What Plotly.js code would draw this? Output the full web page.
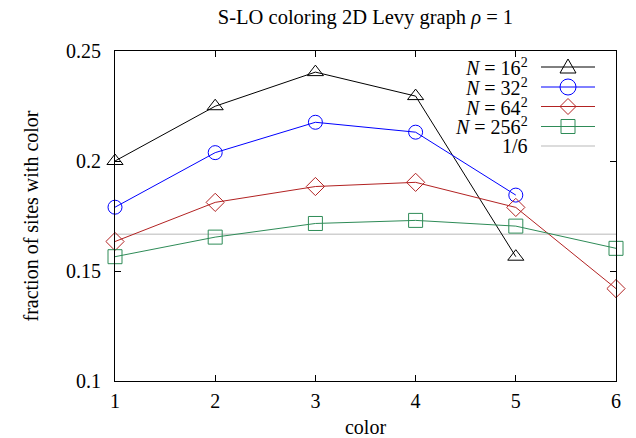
<!DOCTYPE html>
<html>
<head>
<meta charset="utf-8">
<script src="https://cdn.plot.ly/plotly-3.0.1.min.js"></script>
<style>html,body{margin:0;padding:0;background:#fff;}#chart{width:636px;height:438px;}</style>
</head>
<body>
<div id="chart"></div>
<script>
const colors = [1, 2, 3, 4, 5, 6];
const n16 = [0.2000, 0.2249, 0.2404, 0.2295, 0.1565];
const n32 = [0.1790, 0.2038, 0.2176, 0.2131, 0.1845];
const n64 = [0.1634, 0.1812, 0.1884, 0.1903, 0.1789, 0.1420];
const n256 = [0.1565, 0.1654, 0.1716, 0.1730, 0.1704, 0.1603];
const oneSixth = 1 / 6;
const seriesNames = ['<i>N</i> = 16<sup>2</sup>', '<i>N</i> = 32<sup>2</sup>', '<i>N</i> = 64<sup>2</sup>', '<i>N</i> = 256<sup>2</sup>', '1/6'];
const seriesColors = ['#000000', '#0000ff', '#b22222', '#2e8b57', '#d0d0d0'];
const seriesSymbols = ['triangle-up-open', 'circle-open', 'diamond-open', 'square-open', null];
const yTicks = [0.1, 0.15, 0.2, 0.25];
const yTickText = ['0.1', '0.15', '0.2', '0.25'];

const FONT = 'Liberation Serif, Times New Roman, serif';
const data = [n16, n32, n64, n256];

const traces = [];
traces.push({
  x: [colors[0], colors[colors.length - 1]],
  y: [oneSixth, oneSixth],
  mode: 'lines',
  line: {color: seriesColors[4], width: 1.5},
  hoverinfo: 'skip', showlegend: false
});
data.forEach((ys, i) => {
  traces.push({
    x: colors.slice(0, ys.length),
    y: ys,
    mode: 'lines+markers',
    cliponaxis: false,
    line: {color: seriesColors[i], width: 1},
    marker: {symbol: seriesSymbols[i], size: 14, color: seriesColors[i], line: {width: 1, color: seriesColors[i]}},
    showlegend: false
  });
});

const L = 115, R = 616, T = 51, B = 381;
const px = v => (v - L) / (R - L);
const py = v => (B - v) / (B - T);
const rowsPx = [67, 87, 106.5, 126.5, 146];
const shapes = [];
const annotations = [];
rowsPx.forEach((r, i) => {
  annotations.push({
    xref: 'paper', yref: 'paper', x: px(530), y: py(r), xanchor: 'right', yanchor: 'middle',
    text: seriesNames[i], showarrow: false, font: {family: FONT, size: 20, color: '#000'}
  });
  shapes.push({
    type: 'line', xref: 'paper', yref: 'paper', x0: px(541), x1: px(595), y0: py(r), y1: py(r),
    line: {color: seriesColors[i], width: i === 4 ? 1.5 : 1}
  });
  const cx = px(568), cy = py(r);
  const base = {xref: 'paper', yref: 'paper', xsizemode: 'pixel', ysizemode: 'pixel', xanchor: cx, yanchor: cy,
    line: {color: seriesColors[i], width: 1}, fillcolor: 'rgba(0,0,0,0)'};
  if (i === 0) shapes.push(Object.assign({type: 'path', path: 'M-8,-6 L8,-6 L0,8 Z'}, base));
  if (i === 1) shapes.push(Object.assign({type: 'circle', x0: -8, x1: 8, y0: -8, y1: 8}, base));
  if (i === 2) shapes.push(Object.assign({type: 'path', path: 'M0,-8 L8,0 L0,8 L-8,0 Z'}, base));
  if (i === 3) shapes.push(Object.assign({type: 'rect', x0: -7, x1: 7, y0: -7, y1: 7}, base));
});

const layout = {
  width: 636, height: 438,
  margin: {l: L, r: 636 - R, t: T, b: 438 - B, pad: 0},
  paper_bgcolor: '#fff', plot_bgcolor: '#fff',
  font: {family: FONT, size: 20, color: '#000'},
  showlegend: false,
  title: {text: 'S-LO coloring 2D Levy graph <i>ρ</i> = 1', font: {family: FONT, size: 20.5, color: '#000'},
    x: 0.5, xref: 'paper', xanchor: 'center', y: 1 - 17 / 438, yanchor: 'middle'},
  xaxis: {
    range: [1, 6], tickvals: colors, ticks: 'inside', ticklen: 6, tickwidth: 1, tickcolor: '#000',
    showline: true, linecolor: '#000', linewidth: 1, mirror: 'ticks', showgrid: false, zeroline: false,
    tickfont: {family: FONT, size: 20}, ticklabelstandoff: 2,
    title: {text: 'color', font: {family: FONT, size: 20}, standoff: 16}
  },
  yaxis: {
    range: [0.1, 0.25], tickvals: yTicks, ticktext: yTickText, ticks: 'inside', ticklen: 6, tickwidth: 1, tickcolor: '#000',
    showline: true, linecolor: '#000', linewidth: 1, mirror: 'ticks', showgrid: false, zeroline: false,
    tickfont: {family: FONT, size: 20}, ticklabelstandoff: 9,
    title: {text: 'fraction of sites with color', font: {family: FONT, size: 20}, standoff: 22}
  },
  shapes: shapes,
  annotations: annotations
};

Plotly.newPlot('chart', traces, layout, {displayModeBar: false, staticPlot: true});
</script>
</body>
</html>
